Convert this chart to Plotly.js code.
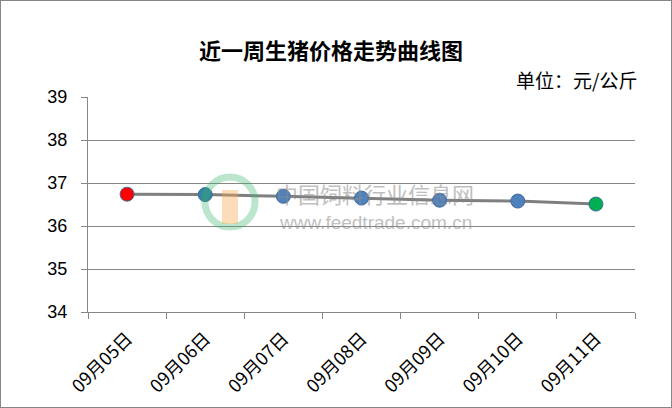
<!DOCTYPE html>
<html>
<head>
<meta charset="utf-8">
<script src="https://cdn.plot.ly/plotly-3.0.1.min.js"></script>
<style>
  html, body { margin: 0; padding: 0; background: #fff; }
  #wrap { position: relative; width: 672px; height: 408px; }
  #chart { width: 672px; height: 408px; }
  #frame { position: absolute; left: 0; top: 0; width: 672px; height: 408px; box-sizing: border-box; border: 1px solid #868686; pointer-events: none; }
</style>
</head>
<body>
<div id="wrap"><div id="chart"></div><div id="frame"></div></div>
<script>
const categories = ['09月05日', '09月06日', '09月07日', '09月08日', '09月09日', '09月10日', '09月11日'];
const prices = [36.74, 36.73, 36.69, 36.65, 36.60, 36.58, 36.51];
const markerColors = ['#FF0000', '#31859C', '#4F81BD', '#4F81BD', '#4F81BD', '#4F81BD', '#00B050'];
const yTicks = [34, 35, 36, 37, 38, 39];

const cjk = '"Noto Sans CJK SC", "Noto Sans", sans-serif';
const latin = '"Liberation Sans", "DejaVu Sans", sans-serif';

const trace = {
  x: categories,
  y: prices,
  type: 'scatter',
  mode: 'lines+markers',
  line: { color: '#7F7F7F', width: 3 },
  marker: { size: 14, color: markerColors, line: { color: '#3F6AA0', width: 1 } },
  hoverinfo: 'x+y',
  showlegend: false
};

const layout = {
  width: 672,
  height: 408,
  margin: { l: 88, r: 37, t: 97, b: 96 },
  paper_bgcolor: '#FFFFFF',
  plot_bgcolor: '#FFFFFF',
  title: {
    text: '<b>近一周生猪价格走势曲线图</b>',
    font: { family: cjk, size: 22, color: '#000000' },
    x: 331 / 672, xanchor: 'center', xref: 'container',
    y: 1 - 51 / 408, yanchor: 'middle', yref: 'container'
  },
  xaxis: {
    type: 'category',
    range: [-0.5, 6.5],
    tickangle: -45,
    tickson: 'boundaries',
    ticks: 'outside',
    ticklen: 6,
    tickcolor: '#868686',
    showline: true,
    linecolor: '#868686',
    linewidth: 1,
    showgrid: false,
    zeroline: false,
    tickfont: { family: cjk, size: 18, color: '#000000' },
    ticklabelstandoff: 8,
    fixedrange: true
  },
  yaxis: {
    range: [34, 39],
    tickvals: yTicks,
    ticktext: yTicks.map(String),
    ticks: 'outside',
    ticklen: 6,
    tickcolor: '#868686',
    showline: true,
    linecolor: '#868686',
    linewidth: 1,
    showgrid: true,
    gridcolor: '#868686',
    gridwidth: 1,
    zeroline: false,
    tickfont: { family: latin, size: 18, color: '#000000' },
    ticklabelstandoff: 10,
    fixedrange: true
  },
  annotations: [
    {
      text: '单位：元/公斤',
      xref: 'paper', yref: 'paper',
      x: (639 - 88) / 547, y: (312 - 80) / 215,
      xanchor: 'right', yanchor: 'middle',
      showarrow: false,
      font: { family: cjk, size: 19, color: '#000000' }
    },
    {
      text: '中国饲料行业信息网',
      xref: 'paper', yref: 'paper',
      x: (375 - 88) / 547, y: (312 - 193) / 215,
      xanchor: 'center', yanchor: 'middle',
      showarrow: false,
      opacity: 0.55,
      font: { family: cjk, size: 22, color: '#8C8C8C' }
    },
    {
      text: 'www.feedtrade.com.cn',
      xref: 'paper', yref: 'paper',
      x: (375 - 88) / 547, y: (312 - 222) / 215,
      xanchor: 'center', yanchor: 'middle',
      showarrow: false,
      opacity: 0.55,
      font: { family: latin, size: 19, color: '#8C8C8C' }
    }
  ],
  shapes: [
    {
      type: 'circle', xref: 'paper', yref: 'paper',
      x0: (205 - 88) / 547, x1: (255 - 88) / 547,
      y0: (312 - 227) / 215, y1: (312 - 177) / 215,
      line: { color: 'rgba(60,180,110,0.35)', width: 7 },
      fillcolor: 'rgba(0,0,0,0)'
    },
    {
      type: 'rect', xref: 'paper', yref: 'paper',
      x0: (222 - 88) / 547, x1: (238 - 88) / 547,
      y0: (312 - 224) / 215, y1: (312 - 190) / 215,
      line: { width: 0 },
      fillcolor: 'rgba(250,170,80,0.4)'
    }
  ]
};

Plotly.newPlot('chart', [trace], layout, { displayModeBar: false, staticPlot: true });
</script>
</body>
</html>
